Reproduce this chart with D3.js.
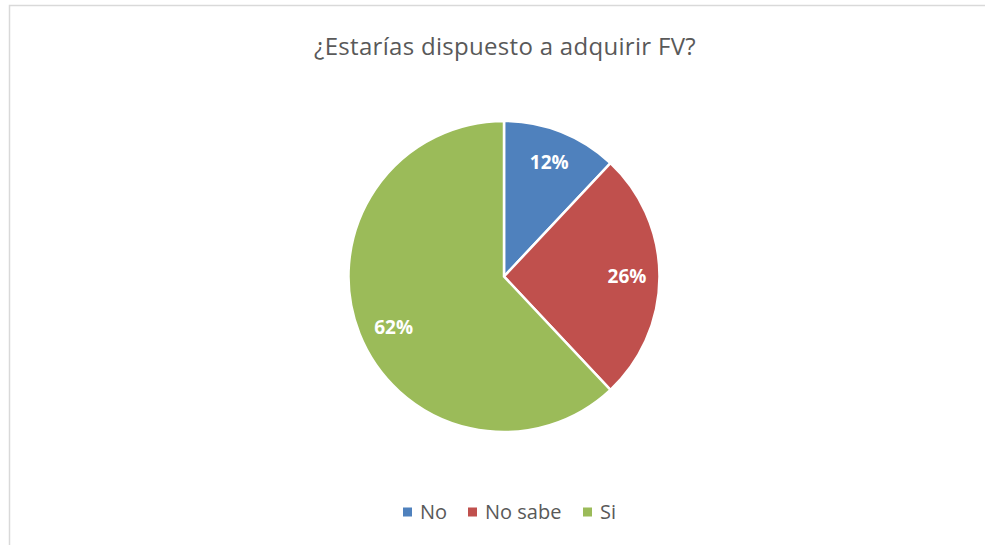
<!DOCTYPE html>
<html>
<head>
<meta charset="utf-8">
<script src="https://cdn.jsdelivr.net/npm/d3@7"></script>
<style>
  html, body { margin: 0; padding: 0; background: #fff; }
  svg { display: block; font-family: "Open Sans", Carlito, Calibri, sans-serif; }
</style>
</head>
<body>
<div id="chart"></div>
<script>
document.addEventListener("DOMContentLoaded", drawPie);

const titleText = "¿Estarías dispuesto a adquirir FV?";
const categories = ["No", "No sabe", "Si"];
const shares = [12, 26, 62];
const sliceColors = ["#4f81bd", "#c0504d", "#9bbb59"];

function drawPie() {
    const width = 985,
        height = 545,
        cx = 504,
        cy = 276.5,
        radius = 155.5;

    const svg = d3.select("#chart").append("svg")
        .attr("width", width)
        .attr("height", height);

    // chart area frame (only top and left edges fall inside the picture)
    svg.append("rect")
        .attr("x", 9.5)
        .attr("y", 5.5)
        .attr("width", width + 20)
        .attr("height", height + 20)
        .attr("fill", "#fff")
        .attr("stroke", "#d9d9d9")
        .attr("stroke-width", 1.5);

    svg.append("text")
        .attr("x", 505)
        .attr("y", 55)
        .attr("text-anchor", "middle")
        .attr("font-size", 24)
        .attr("letter-spacing", 0.3)
        .attr("fill", "#595959")
        .text(titleText);

    const color = d3.scaleOrdinal().domain(categories).range(sliceColors);

    const pie = d3.pie()
        .sort(null)
        .value(d => d.value);

    const data = categories.map((c, i) => ({ name: c, value: shares[i] }));
    const arcs = pie(data);

    const arc = d3.arc().innerRadius(0).outerRadius(radius);
    const labelArc = d3.arc().innerRadius(123).outerRadius(123);

    const g = svg.append("g").attr("transform", `translate(${cx},${cy})`);

    g.selectAll("path")
        .data(arcs)
        .enter()
        .append("path")
        .attr("d", arc)
        .attr("fill", d => color(d.data.name))
        .attr("stroke", "#fff")
        .attr("stroke-width", 2.5)
        .attr("stroke-linejoin", "miter");

    g.selectAll("text")
        .data(arcs)
        .enter()
        .append("text")
        .attr("transform", d => {
            const p = labelArc.centroid(d);
            if (d.data.name === "Si") { p[0] += 4; p[1] += 5; }
            return `translate(${p})`;
        })
        .attr("text-anchor", "middle")
        .attr("dy", "0.36em")
        .attr("font-size", 19)
        .attr("font-weight", "bold")
        .attr("fill", "#fff")
        .text(d => d.data.value + "%");

    // legend
    const legend = svg.append("g").attr("transform", "translate(0,512)");
    const legendX = [403, 468, 583];
    const items = legend.selectAll("g")
        .data(categories)
        .enter()
        .append("g")
        .attr("transform", (d, i) => `translate(${legendX[i]},0)`);

    items.append("rect")
        .attr("x", 0)
        .attr("y", -4.5)
        .attr("width", 9)
        .attr("height", 9)
        .attr("fill", d => color(d));

    items.append("text")
        .attr("x", 17)
        .attr("dy", "0.36em")
        .attr("font-size", 20)
        .attr("fill", "#595959")
        .text(d => d);
}
</script>
</body>
</html>
